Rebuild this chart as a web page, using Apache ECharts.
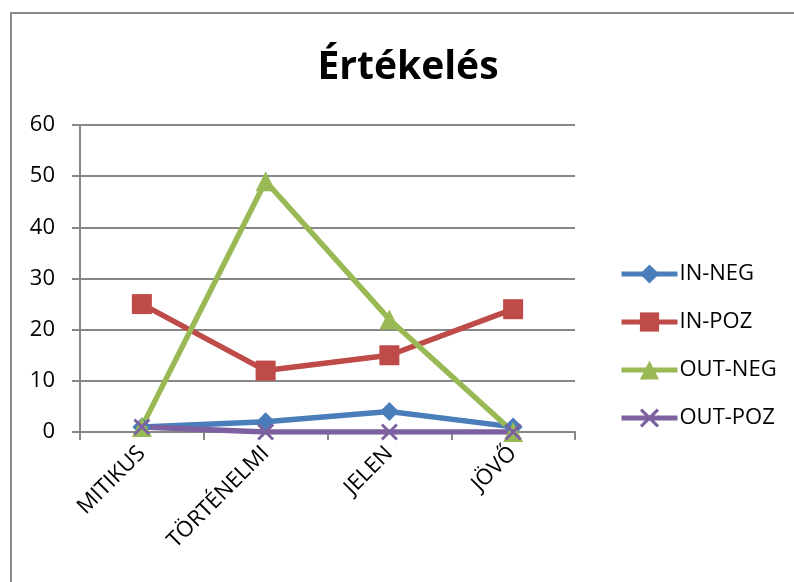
<!DOCTYPE html>
<html><head><meta charset="utf-8">
<script src="https://cdn.jsdelivr.net/npm/echarts@6/dist/echarts.min.js"></script>
<style>html,body{margin:0;padding:0;background:#fff}#c{width:794px;height:582px}</style>
</head><body><div id="c"></div>
<script>
const categories = ['MITIKUS', 'TÖRTÉNELMI', 'JELEN', 'JÖVŐ'];
const inNeg = [1, 2, 4, 1];
const inPoz = [25, 12, 15, 24];
const outNeg = [1, 49, 22, 0];
const outPoz = [1, 0, 0, 0];
const yTicks = [0, 10, 20, 30, 40, 50, 60];

const FONT = '"Open Sans", "Noto Sans", sans-serif';
const xPath = 'path://M0,1.2 L1.2,0 L5,3.8 L8.8,0 L10,1.2 L6.2,5 L10,8.8 L8.8,10 L5,6.2 L1.2,10 L0,8.8 L3.8,5 Z';
const chart = echarts.init(document.getElementById('c'));
function s(name, data, color, symbol, size) {
  return { name, type: 'line', data, symbol, symbolSize: size,
    lineStyle: { color, width: 5.5 }, itemStyle: { color },
    emphasis: { disabled: true }, animation: false };
}
chart.setOption({
  animation: false,
  title: { text: 'Értékelés', left: 403, textAlign: 'center', top: 43,
    textStyle: { fontFamily: FONT, fontWeight: 'bold', fontSize: 39, color: '#000' } },
  graphic: [{ type: 'rect', shape: { x: 11, y: 13, width: 900, height: 700 },
    style: { fill: 'none', stroke: '#8a8a8a', lineWidth: 2 }, silent: true }],
  legend: { orient: 'vertical', left: 614, top: 258, itemGap: 26, itemWidth: 56, itemHeight: 24,
    lineStyle: { width: 5 },
    textStyle: { fontFamily: FONT, fontSize: 22, color: '#000', padding: [0, 0, 0, -3] },
    data: ['IN-NEG', 'IN-POZ', 'OUT-NEG', 'OUT-POZ'] },
  grid: { left: 80, right: 219, top: 125, bottom: 150 },
  xAxis: { type: 'category', data: categories, boundaryGap: true,
    axisLine: { lineStyle: { color: '#878787', width: 2 } },
    axisTick: { show: true, length: 8, lineStyle: { color: '#878787', width: 2 } },
    axisLabel: { rotate: 45, fontFamily: FONT, fontSize: 22, color: '#000', margin: 18, interval: 0 } },
  yAxis: { type: 'value', min: 0, max: 60, interval: 10,
    axisLine: { show: true, lineStyle: { color: '#878787', width: 2 } },
    axisTick: { show: true, length: 8, lineStyle: { color: '#878787', width: 2 } },
    splitLine: { lineStyle: { color: '#878787', width: 2 } },
    axisLabel: { fontFamily: FONT, fontSize: 22, color: '#000', margin: 25,
      formatter: v => yTicks.includes(v) ? String(v) : '' } },
  series: [
    s('IN-NEG', inNeg, '#4a7ebb', 'diamond', 19),
    s('IN-POZ', inPoz, '#be4b48', 'rect', 20),
    s('OUT-NEG', outNeg, '#98b954', 'triangle', 20),
    s('OUT-POZ', outPoz, '#7d60a0', xPath, 17)
  ]
});
</script></body></html>
